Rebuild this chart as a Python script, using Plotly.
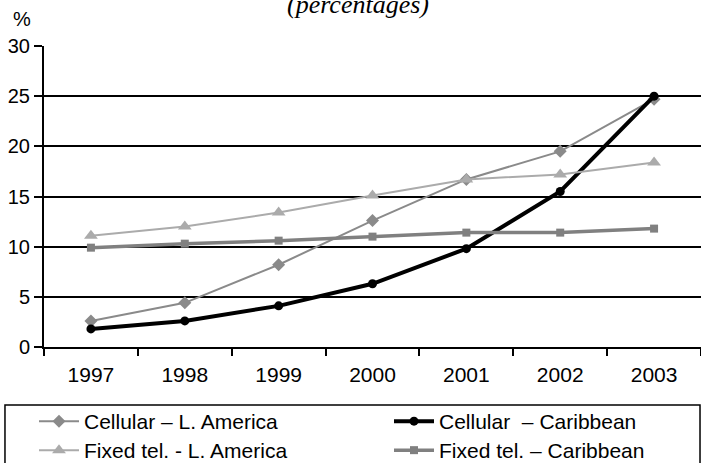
import plotly.graph_objects as go

years = ["1997", "1998", "1999", "2000", "2001", "2002", "2003"]
cellular_latam = [2.6, 4.4, 8.2, 12.6, 16.7, 19.5, 24.7]
cellular_carib = [1.8, 2.6, 4.1, 6.3, 9.8, 15.5, 25.0]
fixed_latam = [11.1, 12.0, 13.4, 15.1, 16.7, 17.2, 18.4]
fixed_carib = [9.9, 10.3, 10.6, 11.0, 11.4, 11.4, 11.8]

FONT = "Liberation Sans, Arial, sans-serif"
W, H = 701, 463

fig = go.Figure()

fig.add_trace(go.Scatter(
    x=years, y=cellular_latam, name="Cellular – L. America",
    mode="lines+markers", legend="legend",
    line=dict(color="#8a8a8a", width=2),
    marker=dict(symbol="diamond", size=10, color="#8a8a8a"),
))
fig.add_trace(go.Scatter(
    x=years, y=cellular_carib, name="Cellular  – Caribbean",
    mode="lines+markers", legend="legend2",
    line=dict(color="black", width=4),
    marker=dict(symbol="circle", size=9, color="black"),
))
fig.add_trace(go.Scatter(
    x=years, y=fixed_latam, name="Fixed tel. - L. America",
    mode="lines+markers", legend="legend3",
    line=dict(color="#ababab", width=2),
    marker=dict(symbol="triangle-up", size=12, color="#ababab"),
))
fig.add_trace(go.Scatter(
    x=years, y=fixed_carib, name="Fixed tel. – Caribbean",
    mode="lines+markers", legend="legend4",
    line=dict(color="#808080", width=3.5),
    marker=dict(symbol="square", size=8, color="#808080"),
))


def legend_at(px, py):
    # one-item legend placed by its top-left corner in pixels
    return dict(
        orientation="h",
        xref="container", yref="container",
        x=px / W, y=1 - py / H, xanchor="left", yanchor="top",
        font=dict(family=FONT, size=21, color="black"),
        itemwidth=40, bgcolor="rgba(0,0,0,0)", borderwidth=0,
    )


fig.update_layout(
    width=W, height=H,
    margin=dict(l=44, r=0, t=46, b=116),
    paper_bgcolor="white", plot_bgcolor="white",
    font=dict(family=FONT, size=20, color="black"),
    showlegend=True,
    legend=legend_at(34, 401),
    legend2=legend_at(389, 401),
    legend3=legend_at(34, 430),
    legend4=legend_at(389, 430),
)

fig.update_xaxes(
    type="category", range=[-0.5, 6.5],
    showgrid=False, showline=True, linecolor="black", linewidth=2,
    ticks="outside", tickson="boundaries", ticklen=7, tickwidth=1.5,
    tickcolor="black", tickfont=dict(size=21), ticklabelstandoff=8,
)
fig.update_yaxes(
    range=[0, 30], dtick=5,
    showgrid=True, gridcolor="black", gridwidth=2,
    zeroline=True, zerolinecolor="black", zerolinewidth=2,
    showline=True, linecolor="black", linewidth=2,
    ticks="outside", ticklen=8, tickwidth=1.5, tickcolor="black",
    tickfont=dict(size=20),
)

# legend frame
fig.add_shape(
    type="rect", xref="paper", yref="paper",
    x0=-0.0594, x1=0.9985, y0=-0.40, y1=-0.1927,
    line=dict(color="black", width=1.5), fillcolor="rgba(0,0,0,0)",
    layer="below",
)

fig.add_annotation(
    text="<i>(percentages)</i>", xref="paper", yref="paper",
    x=(358 - 44) / 657, y=1.1395, xanchor="center", yanchor="middle",
    showarrow=False,
    font=dict(family="Liberation Serif, Times New Roman, serif", size=26),
)
fig.add_annotation(
    text="%", xref="paper", yref="paper",
    x=-0.0335, y=1.0897, xanchor="center", yanchor="middle",
    showarrow=False, font=dict(family=FONT, size=20),
)

fig.write_html(
    "out.html",
    config={"displayModeBar": False},
    post_script="document.body.style.margin='0';",
)
